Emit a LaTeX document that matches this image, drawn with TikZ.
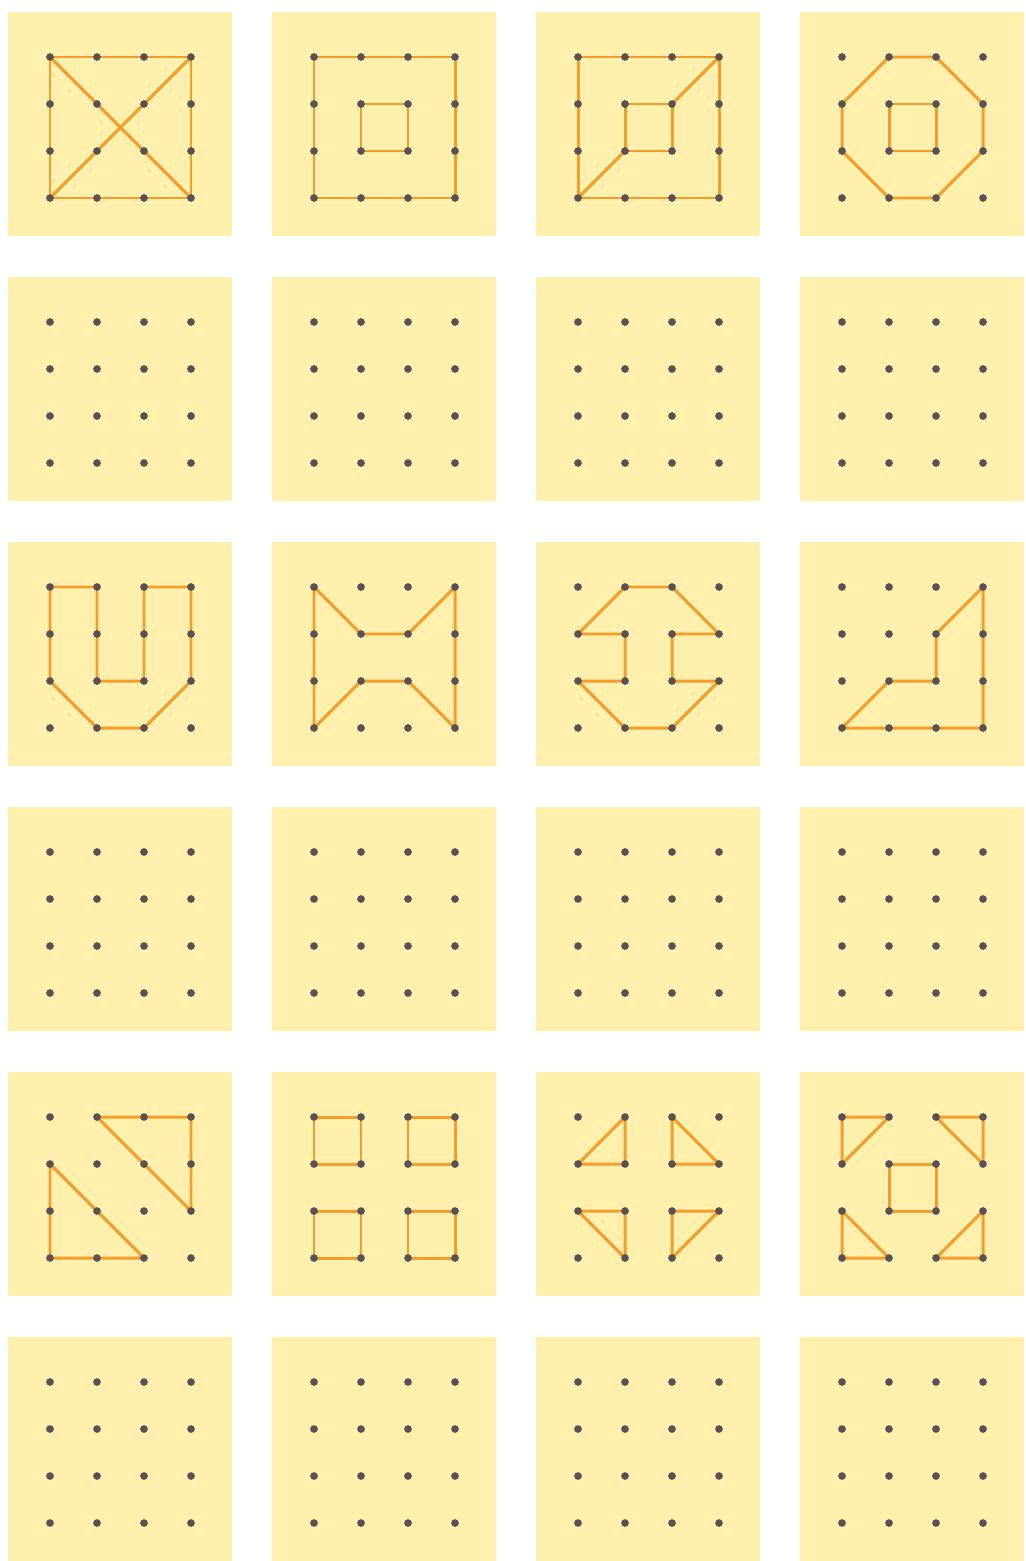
\documentclass[tikz,border=0pt]{standalone}
\usepackage{xcolor}
\usepackage{tikz}
\usetikzlibrary{calc}
\definecolor{BoardYellow}{RGB}{255,240,174}
\definecolor{BandOrange}{RGB}{246,156,40}
\definecolor{PegGray}{RGB}{88,82,88}
\tikzset{
  board/.style={fill=BoardYellow, draw=none},
  band/.style={draw=BandOrange, line width=1.7pt, line join=round},
  peg/.style={fill=PegGray}
}

\begin{document}
\begin{tikzpicture}[x=0.02cm, y=-0.02cm]
  \useasboundingbox (0,0) rectangle (1025,1561);
  \fill[white] (0,0) rectangle (1025,1561);
  % boards and their peg positions
  \foreach \r in {0,...,5}{
    \foreach \c in {0,...,3}{
      \fill[board] ({8+264*\c},{12+265*\r}) rectangle +(224,224);
      \foreach \i in {0,...,3}{
        \foreach \j in {0,...,3}{
          \coordinate (b\r\c-\i\j) at ({50+264*\c+47*\i},{57+265*\r+47*\j});
        }
      }
    }
  }
  % row 1
  \draw[band] (b00-00) -- (b00-30) -- (b00-33) -- (b00-03) -- cycle;
  \draw[band] (b00-00) -- (b00-33);
  \draw[band] (b00-30) -- (b00-03);
  \draw[band] (b01-00) -- (b01-30) -- (b01-33) -- (b01-03) -- cycle;
  \draw[band] (b01-11) -- (b01-21) -- (b01-22) -- (b01-12) -- cycle;
  \draw[band] (b02-00) -- (b02-30) -- (b02-33) -- (b02-03) -- cycle;
  \draw[band] (b02-11) -- (b02-21) -- (b02-22) -- (b02-12) -- cycle;
  \draw[band] (b02-30) -- (b02-21);
  \draw[band] (b02-03) -- (b02-12);
  \draw[band] (b03-10) -- (b03-20) -- (b03-31) -- (b03-32) -- (b03-23) -- (b03-13) -- (b03-02) -- (b03-01) -- cycle;
  \draw[band] (b03-11) -- (b03-21) -- (b03-22) -- (b03-12) -- cycle;
  % row 3
  \draw[band] (b20-00) -- (b20-10) -- (b20-12) -- (b20-22) -- (b20-20) -- (b20-30) -- (b20-32) -- (b20-23) -- (b20-13) -- (b20-02) -- cycle;
  \draw[band] (b21-00) -- (b21-11) -- (b21-21) -- (b21-30) -- (b21-33) -- (b21-22) -- (b21-12) -- (b21-03) -- cycle;
  \draw[band] (b22-10) -- (b22-20) -- (b22-31) -- (b22-21) -- (b22-22) -- (b22-32) -- (b22-23) -- (b22-13) -- (b22-02) -- (b22-12) -- (b22-11) -- (b22-01) -- cycle;
  \draw[band] (b23-30) -- (b23-33) -- (b23-03) -- (b23-12) -- (b23-22) -- (b23-21) -- cycle;
  % row 5
  \draw[band] (b40-10) -- (b40-30) -- (b40-32) -- cycle;
  \draw[band] (b40-01) -- (b40-23) -- (b40-03) -- cycle;
  \draw[band] (b41-00) -- (b41-10) -- (b41-11) -- (b41-01) -- cycle;
  \draw[band] (b41-20) -- (b41-30) -- (b41-31) -- (b41-21) -- cycle;
  \draw[band] (b41-02) -- (b41-12) -- (b41-13) -- (b41-03) -- cycle;
  \draw[band] (b41-22) -- (b41-32) -- (b41-33) -- (b41-23) -- cycle;
  \draw[band] (b42-10) -- (b42-11) -- (b42-01) -- cycle;
  \draw[band] (b42-20) -- (b42-21) -- (b42-31) -- cycle;
  \draw[band] (b42-02) -- (b42-12) -- (b42-13) -- cycle;
  \draw[band] (b42-22) -- (b42-32) -- (b42-23) -- cycle;
  \draw[band] (b43-00) -- (b43-10) -- (b43-01) -- cycle;
  \draw[band] (b43-20) -- (b43-30) -- (b43-31) -- cycle;
  \draw[band] (b43-11) -- (b43-21) -- (b43-22) -- (b43-12) -- cycle;
  \draw[band] (b43-02) -- (b43-13) -- (b43-03) -- cycle;
  \draw[band] (b43-32) -- (b43-33) -- (b43-23) -- cycle;
  % pegs on top
  \foreach \r in {0,...,5}{
    \foreach \c in {0,...,3}{
      \foreach \i in {0,...,3}{
        \foreach \j in {0,...,3}{
          \fill[peg] (b\r\c-\i\j) circle (2.2pt);
        }
      }
    }
  }
\end{tikzpicture}
\end{document}
